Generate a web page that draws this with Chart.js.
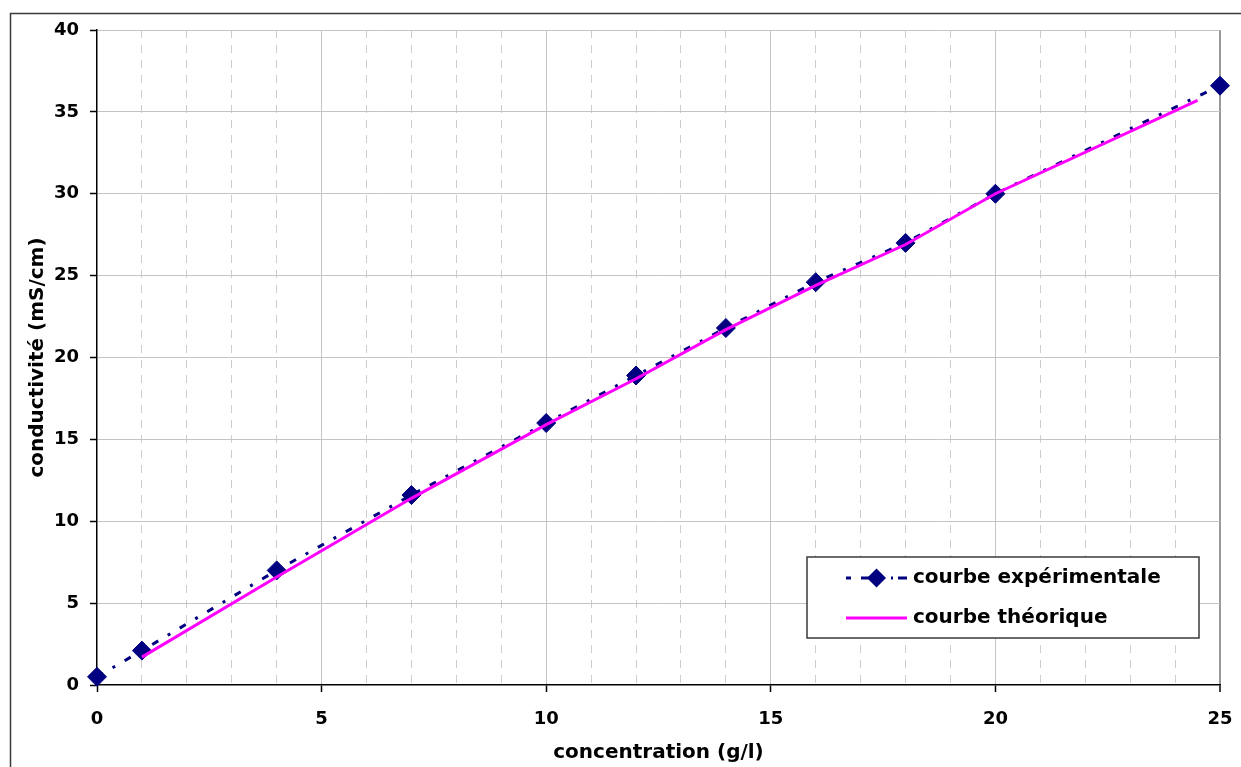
<!DOCTYPE html>
<html lang="fr">
<head>
    <meta charset="UTF-8">
    <title>Conductivité en fonction de la concentration</title>
    <script src="https://cdn.jsdelivr.net/npm/chart.js@4.4.0/dist/chart.umd.min.js"></script>
    <style>
        body { margin: 0; background: #fff; }
        #wrap { position: relative; width: 1241px; height: 767px; }
    </style>
</head>
<body>
<div id="wrap"><canvas id="myChart"></canvas></div>

<script>
    // valeurs
    var concExp = [0, 1, 4, 7, 10, 12, 14, 16, 18, 20, 25];
    var condExp = [0.5, 2.1, 7.0, 11.6, 16.0, 18.9, 21.8, 24.6, 27.0, 30.0, 36.6];
    var concTheo = [1, 4, 7, 10, 12, 14, 16, 18, 20, 24.5];
    var condTheo = [1.7, 6.6, 11.4, 15.9, 18.7, 21.7, 24.4, 26.9, 30.0, 35.7];

    var xTicks = [0, 5, 10, 15, 20, 25];
    var yTicks = [0, 5, 10, 15, 20, 25, 30, 35, 40];

    var labelExp = 'courbe expérimentale';
    var labelTheo = 'courbe théorique';
    var titleX = 'concentration (g/l)';
    var titleY = 'conductivité (mS/cm)';

    var navy = '#000080';
    var pink = '#ff00ff';
    var expDash = [7, 11, 3, 11];

    Chart.defaults.font.family = '"DejaVu Sans", sans-serif';
    Chart.defaults.font.weight = 'bold';
    Chart.defaults.color = '#000';

    // cadre exterieur (coupé à droite et en bas)
    var outerFrame = {
        id: 'outerFrame',
        beforeDraw: function (chart) {
            var c = chart.ctx;
            c.save();
            c.strokeStyle = '#3a3a3a';
            c.lineWidth = 1.5;
            c.beginPath();
            c.moveTo(10.5, chart.height + 2);
            c.lineTo(10.5, 13.5);
            c.lineTo(chart.width + 2, 13.5);
            c.stroke();
            c.restore();
        }
    };

    // legende dans la zone du graphique, en bas à droite
    var boxLegend = {
        id: 'boxLegend',
        afterDraw: function (chart) {
            var c = chart.ctx;
            var a = chart.chartArea;
            var w = 392, h = 81;
            var x0 = a.right - 21 - w, y0 = a.bottom - 128;
            c.save();
            c.fillStyle = '#fff';
            c.fillRect(x0, y0, w, h);
            c.strokeStyle = '#3a3a3a';
            c.lineWidth = 1.5;
            c.strokeRect(x0, y0, w, h);

            var lx1 = x0 + 39, lx2 = x0 + 100, tx = x0 + 106;
            var r1 = y0 + 21, r2 = y0 + 61;
            var m = (lx1 + lx2) / 2;

            c.strokeStyle = navy;
            c.lineWidth = 3;
            c.setLineDash([5, 10, 20, 10, 2]);
            c.beginPath();
            c.moveTo(lx1, r1);
            c.lineTo(lx2, r1);
            c.stroke();
            c.setLineDash([]);
            c.fillStyle = navy;
            c.beginPath();
            c.moveTo(m, r1 - 9.5); c.lineTo(m + 9.5, r1); c.lineTo(m, r1 + 9.5); c.lineTo(m - 9.5, r1);
            c.closePath();
            c.fill();

            c.strokeStyle = pink;
            c.beginPath();
            c.moveTo(lx1, r2);
            c.lineTo(lx2, r2);
            c.stroke();

            c.fillStyle = '#000';
            c.font = 'bold 20px "DejaVu Sans"';
            c.textAlign = 'left';
            c.textBaseline = 'middle';
            c.fillText(labelExp, tx, r1);
            c.fillText(labelTheo, tx, r2);
            c.restore();
        }
    };

    var ctx = document.getElementById('myChart').getContext('2d');

    var chart = new Chart(ctx, {
        type: 'line',
        data: {
            datasets: [{
                label: labelExp,
                data: concExp.map(function (v, i) { return {x: v, y: condExp[i]}; }),
                borderColor: navy,
                backgroundColor: navy,
                borderWidth: 3,
                borderDash: expDash,
                pointStyle: 'rectRot',
                pointRadius: 9.5,
                pointBorderWidth: 1,
                pointBackgroundColor: navy,
                pointBorderColor: navy,
                tension: 0,
                clip: false,
                order: 1
            }, {
                label: labelTheo,
                data: concTheo.map(function (v, i) { return {x: v, y: condTheo[i]}; }),
                borderColor: pink,
                backgroundColor: pink,
                borderWidth: 3,
                pointRadius: 0,
                tension: 0,
                clip: false,
                order: 0
            }]
        },
        options: {
            responsive: true,
            maintainAspectRatio: false,
            animation: false,
            events: [],
            layout: {padding: {top: 30, right: 21, left: 0, bottom: 0}},
            plugins: {
                legend: {display: false},
                tooltip: {enabled: false}
            },
            scales: {
                x: {
                    type: 'linear',
                    position: 'bottom',
                    min: 0,
                    max: 25,
                    afterBuildTicks: function (s) { s.ticks = xTicks.map(function (v) { return {value: v}; }); },
                    afterFit: function (s) {
                        s.height = 82;
                        s.paddingLeft = 10;
                        s.paddingRight = 10;
                    },
                    ticks: {font: {size: 18}, padding: 17, maxRotation: 0},
                    grid: {
                        color: function (c) {
                            if (c.tick.value === 0) return 'rgba(0,0,0,0)';
                            return c.tick.value === 25 ? '#9a9a9a' : '#c4c4c4';
                        },
                        lineWidth: function (c) { return c.tick.value === 25 ? 2 : 1; },
                        tickColor: '#000',
                        tickLength: 7,
                        tickWidth: 1.5
                    },
                    border: {color: '#000', width: 1.5},
                    title: {display: true, text: titleX, font: {size: 20}, padding: {top: 0, bottom: 2}}
                },
                xMinor: {
                    type: 'linear',
                    position: 'top',
                    min: 0,
                    max: 25,
                    afterFit: function (s) { s.height = 0; },
                    ticks: {display: false, stepSize: 1},
                    grid: {
                        drawTicks: false,
                        color: function (c) { return c.tick.value % 5 === 0 ? 'rgba(0,0,0,0)' : '#cdcdcd'; },
                        lineWidth: 1
                    },
                    border: {display: false, dash: [8, 7]}
                },
                y: {
                    type: 'linear',
                    min: 0,
                    max: 40,
                    afterBuildTicks: function (s) { s.ticks = yTicks.map(function (v) { return {value: v}; }); },
                    afterFit: function (s) { s.width = 97; },
                    ticks: {font: {size: 18}, padding: 11},
                    grid: {
                        color: function (c) { return c.tick.value === 0 ? 'rgba(0,0,0,0)' : '#c4c4c4'; },
                        tickColor: '#000',
                        tickLength: 7,
                        tickWidth: 1.5
                    },
                    border: {color: '#000', width: 1.5},
                    title: {display: true, text: titleY, font: {size: 20}, padding: {top: 26, bottom: 0}}
                }
            }
        },
        plugins: [outerFrame, boxLegend]
    });
</script>
</body>
</html>
